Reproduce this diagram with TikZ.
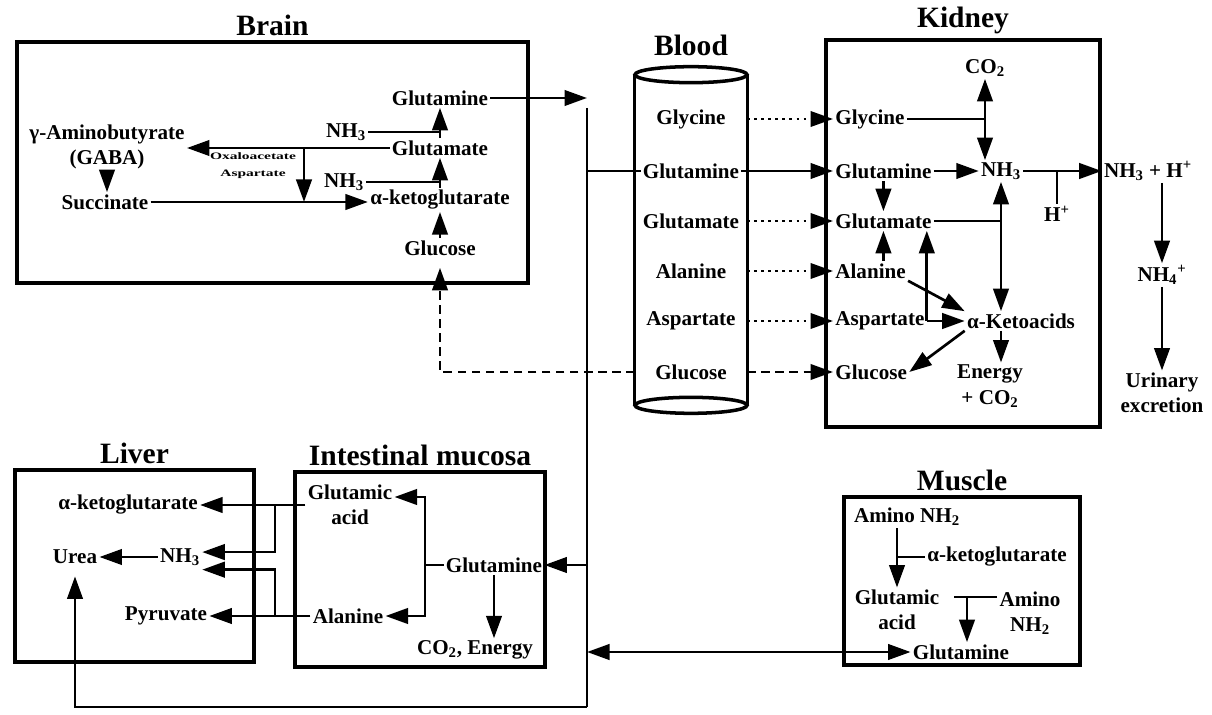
\documentclass[tikz,border=0pt]{standalone}
\usepackage{fontspec}
\setmainfont{Liberation Serif}
\usetikzlibrary{arrows.meta, positioning, calc}

\newcommand{\chsub}[1]{\textsubscript{#1}}
\newcommand{\chsup}[1]{\textsuperscript{#1}}

\begin{document}
\begin{tikzpicture}[x=0.025cm, y=-0.025cm,
    every node/.style={font=\bfseries\fontsize{15}{18}\selectfont, inner sep=1.5pt},
    lbl/.style={align=center},
    title/.style={font=\bfseries\fontsize{21}{24}\selectfont},
    smalltxt/.style={font=\bfseries\fontsize{10}{10}\selectfont, inner sep=0.5pt},
    organ/.style={draw, line width=2.8pt},
    tube/.style={line width=2.5pt},
    flow/.style={line width=1.9pt},
    arr/.style={flow, -{Triangle[length=16pt, width=11pt]}},
    darr/.style={flow, {Triangle[length=16pt, width=11pt]}-{Triangle[length=16pt, width=11pt]}},
    dotline/.style={line width=1.6pt, dash pattern=on 1.6pt off 3.4pt},
    dashline/.style={line width=1.8pt, dash pattern=on 6pt off 4pt}]

    \useasboundingbox (0,0) rectangle (1212,715);

    % Brain
    \node[organ, minimum width=12.775cm, minimum height=6.025cm] (brain) at (272.5,162.5) {};
    \node[title, above=1pt of brain] {Brain};
    \node (bgln) at (440,98) {Glutamine};
    \node (bglu) at (440,148) {Glutamate};
    \node (bakg) at (440,200) {α-ketoglutarate};
    \node (bglc) at (440,248) {Glucose};
    \node (bnha) at (346,132) {NH\chsub{3}};
    \node (bnhb) at (344,182) {NH\chsub{3}};
    \node[lbl] (bgaba) at (107,147) {γ-Aminobutyrate\\(GABA)};
    \node (bsuc) at (105,202) {Succinate};
    \node[smalltxt] (boxa) at (253,156) {\scalebox{1.1}[0.7]{Oxaloacetate}};
    \node[smalltxt] (basp) at (253,174) {\scalebox{1.1}[0.7]{Aspartate}};
    \coordinate (bfork) at (304,148);

    \draw[arr] (bglu.north) -- (bgln.south);
    \draw[flow] (bnha.east) -- (bnha.east -| bglu.north);
    \draw[arr] (bakg.north) -- (bglu.south);
    \draw[flow] (bnhb.east) -- (bnhb.east -| bglu.south);
    \draw[arr] (bglc.north) -- (bakg.south);
    \draw[arr] (bglu.west) -- (bgaba.east |- bglu.west);
    \draw[arr] (bfork) -- (bfork |- bsuc.east);
    \draw[arr] (bsuc.east) -- (bsuc.east -| bakg.west);
    \draw[arr] (bgaba.south) -- (bgaba.south |- bsuc.north);

    % Trunk line
    \coordinate (ttop) at (587,108);
    \coordinate (tbot) at (587,707);
    \draw[flow] (ttop) -- (tbot);
    \draw[arr] (bgln.east) -- (bgln.east -| ttop);

    % Blood
    \node[minimum width=2.8cm, minimum height=8.25cm] (blood) at (691,240) {};
    \draw[tube] (blood.north west) -- (blood.south west) (blood.north east) -- (blood.south east);
    \draw[tube] (blood.north) ellipse [x radius=1.4cm, y radius=0.2cm];
    \draw[tube] (blood.south) ellipse [x radius=1.4cm, y radius=0.2cm];
    \node[title, above=0.4cm of blood] {Blood};
    \node (vgly) at (691,119) {Glycine};
    \node (vgln) at (691,171) {Glutamine};
    \node (vglu) at (691,221) {Glutamate};
    \node (vala) at (691,271) {Alanine};
    \node (vasp) at (691,321) {Aspartate};
    \node (vglc) at (691,372) {Glucose};

    % Kidney
    \node[organ, minimum width=6.85cm, minimum height=9.675cm] (kidney) at (963,233.5) {};
    \node[title, above=1pt of kidney] {Kidney};
    \node[anchor=west] (kgly) at (833,119) {Glycine};
    \node[anchor=west] (kgln) at (833,171) {Glutamine};
    \node[anchor=west] (kglu) at (833,221) {Glutamate};
    \node[anchor=west] (kala) at (833,271) {Alanine};
    \node[anchor=west] (kasp) at (833,321) {Aspartate};
    \node[anchor=west] (kglc) at (833,372) {Glucose};
    \node (kco) at (985,68) {CO\chsub{2}};
    \node (knh) at (1001,171) {NH\chsub{3}};
    \node (kket) at (1021,321) {α-Ketoacids};
    \node[lbl] (ken) at (990,386) {Energy\\+ CO\chsub{2}};
    \node (khp) at (1057,214) {H\chsup{+}};
    \node (knhh) at (1148,171) {NH\chsub{3} + H\chsup{+}};
    \node (knh4) at (1162,275) {NH\chsub{4}\chsup{+}};
    \node[lbl] (kuri) at (1162,393) {Urinary\\excretion};

    \draw[arr, dotline] (vgly.east -| blood.east) -- (kgly.west);
    \draw[flow] (ttop |- vgln.west) -- (vgln.west);
    \draw[arr] (vgln.east) -- (kgln.west);
    \draw[arr, dotline] (vglu.east -| blood.east) -- (kglu.west);
    \draw[arr, dotline] (vala.east -| blood.east) -- (kala.west);
    \draw[arr, dotline] (vasp.east -| blood.east) -- (kasp.west);
    \draw[arr, dashline] (vglc.east -| blood.east) -- (kglc.west);
    \draw[arr, dashline, shorten >=0.25cm] (vglc.west -| blood.west) -| (bglc.south);

    \draw[darr] (kco.south) -- (kco.south |- knh.north);
    \draw[flow] (kgly.east) -- (kgly.east -| kco.south);
    \draw[arr] (kgln.east) -- (knh.west);
    \draw[arr] (knh.east) -- (knhh.west);
    \draw[flow] (khp.north) -- (khp.north |- knh.east);
    \draw[arr] (kgln.south) -- (kgln.south |- kglu.north);
    \draw[flow] (kglu.east) -- (kglu.east -| knh.south);
    \draw[darr] (knh.south) -- (knh.south |- kket.north);
    \draw[arr] (kala.north -| kgln.south) -- (kglu.south -| kgln.south);
    \draw[arr] (kasp.east) -- (kasp.east |- kglu.south);
    \draw[arr] (kala.south east) -- (kket.north west);
    \draw[arr] (kasp.east) -- (kket.west);
    \draw[arr] (kket.south west) -- (kglc.east);
    \draw[arr] (kket.south -| knh.south) -- (ken.north -| knh.south);
    \draw[arr] (knh4.north |- knhh.south) -- (knh4.north);
    \draw[arr] (knh4.south) -- (kuri.north);

    % Liver
    \node[organ, minimum width=5.975cm, minimum height=4.8cm] (liver) at (134.5,566) {};
    \node[title, above=1pt of liver] {Liver};
    \node (lakg) at (128,505) {α-ketoglutarate};
    \node (lurea) at (75,557) {Urea};
    \node (lnh) at (180,557) {NH\chsub{3}};
    \node (lpyr) at (166,616) {Pyruvate};

    % Intestinal mucosa
    \node[organ, minimum width=6.25cm, minimum height=4.875cm] (gut) at (420,569.5) {};
    \node[title, above=1pt of gut] {Intestinal mucosa};
    \node[lbl] (iga) at (350,505) {Glutamic\\acid};
    \node (igln) at (494,565) {Glutamine};
    \node (iala) at (348,616) {Alanine};
    \node (ico) at (475,650) {CO\chsub{2}, Energy};
    \coordinate (ifork) at (425,565);
    \coordinate (lfork) at (275,505);

    \draw[arr] (iga.west) -- (iga.west -| lakg.east);
    \draw[arr] (lfork) |- ([yshift=3.5pt]lnh.east);
    \draw[arr] (lfork |- iala.west) |- ([yshift=-9pt]lnh.east);
    \draw[arr] (iala.west) -- (iala.west -| lpyr.east);
    \draw[arr] (lnh.west) -- (lurea.east);
    \draw[flow] (igln.west) -- (ifork);
    \draw[arr] (ifork) |- ([yshift=0.2cm]iga.east);
    \draw[arr] (ifork) |- (iala.east);
    \draw[arr] (igln.south) -- (igln.south |- ico.north);
    \draw[arr] (ttop |- igln.east) -- (igln.east);
    \draw[arr, shorten >=0.25cm] (tbot) -| (lurea.south);

    % Muscle
    \node[organ, minimum width=5.9cm, minimum height=4.2cm] (muscle) at (962,581) {};
    \node[title, above=1pt of muscle] {Muscle};
    \node (mam) at (907,517) {Amino NH\chsub{2}};
    \node (makg) at (997,557) {α-ketoglutarate};
    \node[lbl] (mga) at (897,610) {Glutamic\\acid};
    \node[lbl] (mamb) at (1030,613) {Amino\\NH\chsub{2}};
    \node (mgln) at (961,652) {Glutamine};
    \coordinate (mfork) at (967,597);

    \draw[arr] (mam.south -| mga.north) -- (mga.north);
    \draw[flow] (makg.west) -- (makg.west -| mga.north);
    \draw[flow, shorten >=0.3cm] (mamb.west |- mfork) -- (mga.east |- mfork);
    \draw[arr] (mfork) -- (mfork |- mgln.north);
    \draw[darr] (ttop |- mgln.west) -- (mgln.west);
\end{tikzpicture}
\end{document}
